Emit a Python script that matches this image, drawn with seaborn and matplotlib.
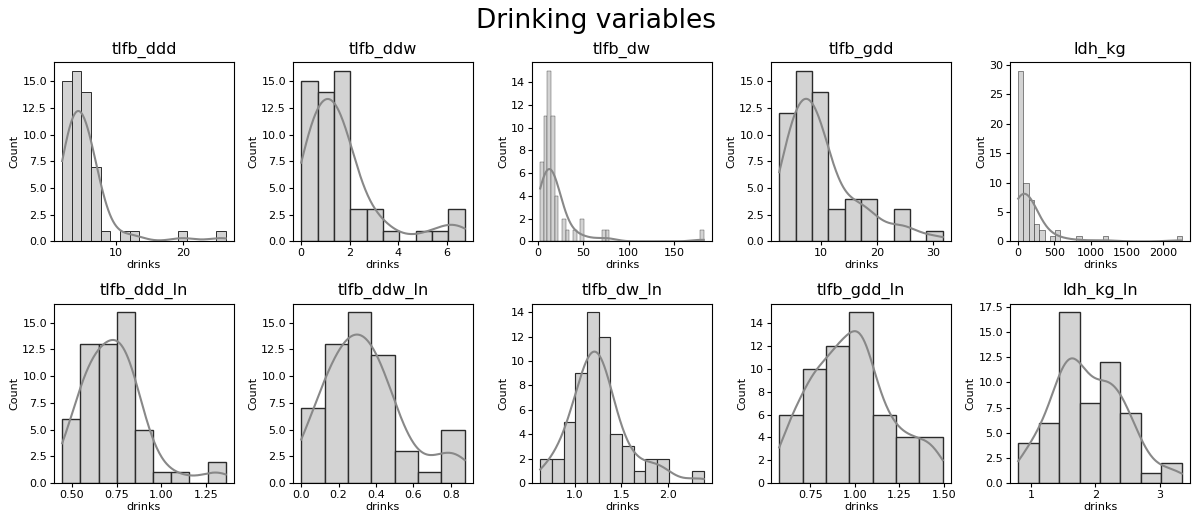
import numpy as np
import matplotlib
matplotlib.use("Agg")
import matplotlib.pyplot as plt
import seaborn as sns

# ---- data: histogram ranges (min, max of variable) and bin counts ----
variables = ["tlfb_ddd", "tlfb_ddw", "tlfb_dw", "tlfb_gdd", "ldh_kg",
             "tlfb_ddd_ln", "tlfb_ddw_ln", "tlfb_dw_ln", "tlfb_gdd_ln", "ldh_kg_ln"]

tlfb_ddd_range = (2.02, 26.4)
tlfb_ddd_counts = [15, 16, 14, 7, 1, 0, 1, 1, 0, 0, 0, 0, 1, 0, 0, 0, 1]

tlfb_ddw_range = (0.0, 6.75)
tlfb_ddw_counts = [15, 14, 16, 3, 3, 1, 0, 1, 1, 3]

tlfb_dw_range = (2.5, 182.5)
tlfb_dw_counts = [7, 11, 15, 11, 4, 0, 2, 1, 0, 1, 0, 2, 0, 0, 0, 0, 0, 1, 1, 0,
                  0, 0, 0, 0, 0, 0, 0, 0, 0, 0, 0, 0, 0, 0, 0, 0, 0, 0, 0, 0,
                  0, 0, 0, 0, 1]

tlfb_gdd_range = (2.54, 31.8)
tlfb_gdd_counts = [12, 16, 14, 3, 4, 4, 0, 3, 0, 1]

ldh_kg_range = (4.5, 2254.0)
ldh_kg_counts = [29, 10, 7, 3, 2, 0, 1, 2, 0, 0, 0, 1, 0, 0, 0, 0, 1, 0, 0, 0,
                 0, 0, 0, 0, 0, 0, 0, 0, 0, 0, 1]

tlfb_ddd_ln_range = (0.445, 1.36)
tlfb_ddd_ln_counts = [6, 13, 13, 16, 5, 1, 1, 0, 2]

tlfb_ddw_ln_range = (0.0, 0.875)
tlfb_ddw_ln_counts = [7, 13, 16, 12, 3, 1, 5]

tlfb_dw_ln_range = (0.629, 2.386)
tlfb_dw_ln_counts = [2, 2, 5, 9, 14, 12, 4, 3, 1, 2, 2, 0, 0, 1]

tlfb_gdd_ln_range = (0.575, 1.495)
tlfb_gdd_ln_counts = [6, 10, 12, 15, 6, 4, 4]

ldh_kg_ln_range = (0.80, 3.346)
ldh_kg_ln_counts = [4, 6, 17, 8, 12, 7, 1, 2]

ranges = [tlfb_ddd_range, tlfb_ddw_range, tlfb_dw_range, tlfb_gdd_range, ldh_kg_range,
          tlfb_ddd_ln_range, tlfb_ddw_ln_range, tlfb_dw_ln_range, tlfb_gdd_ln_range, ldh_kg_ln_range]
counts = [tlfb_ddd_counts, tlfb_ddw_counts, tlfb_dw_counts, tlfb_gdd_counts, ldh_kg_counts,
          tlfb_ddd_ln_counts, tlfb_ddw_ln_counts, tlfb_dw_ln_counts, tlfb_gdd_ln_counts, ldh_kg_ln_counts]
# smoothing tweak per panel (style only)
bw_tweak = [0.95, 0.85, 0.9, 0.9, 0.9, 1.0, 1.0, 0.95, 0.75, 0.92]

plt.rcParams["font.family"] = ["DejaVu Sans"]

fig, axes = plt.subplots(2, 5, figsize=(11.93, 5.17), dpi=100)
fig.subplots_adjust(left=54 / 1193, right=1190 / 1193, top=1 - 62 / 517,
                    bottom=1 - 483 / 517, wspace=0.328, hspace=0.346)

for ax, name, (lo, hi), cnt, tw in zip(axes.flat, variables, ranges, counts, bw_tweak):
    cnt = np.asarray(cnt, dtype=float)
    nb = len(cnt)
    edges = np.linspace(lo, hi, nb + 1)
    centers = 0.5 * (edges[:-1] + edges[1:])
    keep = cnt > 0
    x = centers[keep]
    w = cnt[keep]
    # bandwidth compensation: weighted KDE uses effective n
    n_eff = w.sum() ** 2 / (w ** 2).sum()
    adj = (n_eff / w.sum()) ** 0.2 * tw
    sns.histplot(x=x, weights=w, bins=nb, binrange=(lo, hi), kde=True,
                 kde_kws=dict(bw_adjust=adj, cut=3, clip=(lo, hi)),
                 color="#d3d3d3", alpha=1.0, edgecolor="#2b2b2b", ax=ax)
    for ln in ax.lines:
        ln.set_color("#888888")
        ln.set_linewidth(1.5)
    ax.set_title(name, fontsize=11.5)
    ax.set_xlabel("drinks", fontsize=8, labelpad=1.5)
    ax.set_ylabel("Count", fontsize=8, labelpad=2)
    ax.tick_params(labelsize=8, length=3, pad=2)

fig.suptitle("Drinking variables", fontsize=19, y=0.985)
fig.savefig("out.png", dpi=100)
